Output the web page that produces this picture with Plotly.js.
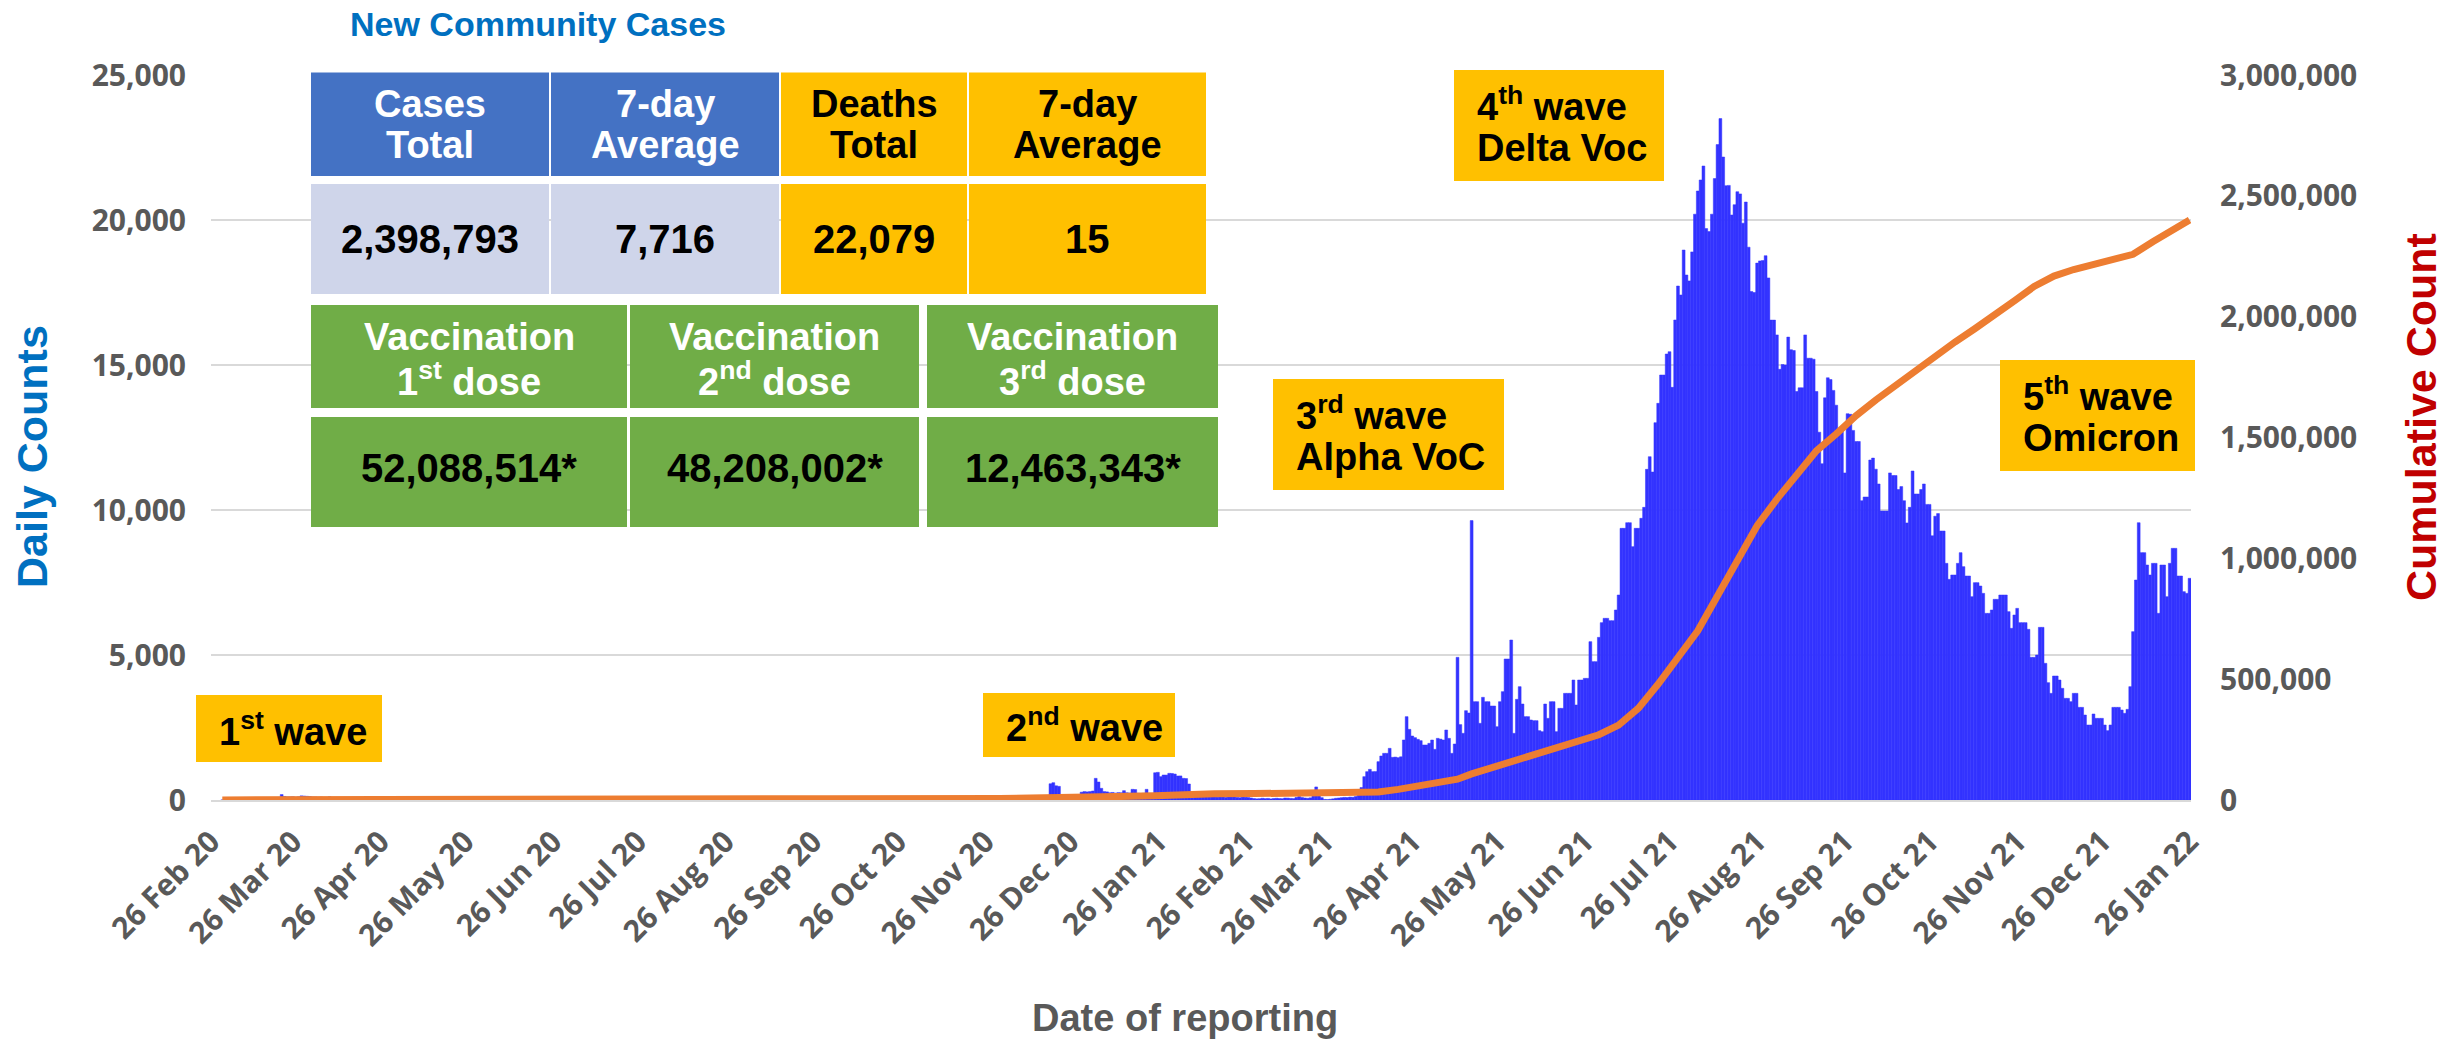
<!DOCTYPE html>
<html><head><meta charset="utf-8">
<script src="https://cdn.plot.ly/plotly-3.0.1.min.js"></script>
<style>html,body{margin:0;padding:0;background:#fff;}#chart{width:2453px;height:1042px;}</style>
</head><body><div id="chart"></div>
<script>
// ---------------- DATA ----------------
const startDate = '2020-03-01';
const mar20 = [1,0,1,1,1,0,0,1,0,1,1,2,5,7,32,33,30,35,60,50,89,188,122,106,107,111,91,109,143,136,127];
const apr20 = [120,104,103,89,102,51,38,111,54,50,45,33,28,34,30,29,28,33,32,27,19,15,13,15,53,15,9,7,9,7];
const may20 = [6,3,18,1,1,1,3,16,0,5,0,1,2,0,7,3,0,3,1,1,3,2,1,1,1,0,0,4,1,0,0];
const jun20 = [1,2,3,1,0,2,1,0,0,2,3,1,0,1,0,0,2,1,1,0,0,1,2,0,3,1,0,2,1,0];
const jul20 = [1,3,0,2,1,0,1,2,0,1,2,1,0,3,0,1,2,1,0,0,2,1,1,0,1,4,0,2,1,0,1];
const aug20 = [0,2,1,1,0,3,1,1,0,2,1,3,0,0,2,1,1,0,4,1,0,2,1,3,0,1,2,0,1,1,2];
const sep20 = [1,0,3,1,2,0,1,1,3,0,2,1,0,1,4,2,0,1,1,3,0,2,1,1,0,2,3,1,0,2];
const oct20 = [3,1,0,2,4,1,1,0,3,2,1,6,2,1,0,3,2,1,4,0,2,1,3,1,0,2,5,1,2,4,1];
const nov20 = [2,3,1,4,0,2,5,1,3,2,4,1,0,3,6,2,1,4,2,3,1,5,2,0,3,4,2,6,3,5];
const dec20 = [6,3,4,2,5,7,3,4,6,2,5,4,3,6,8,5,4,10,560,597,490,470,60,45,110,64,121,144,155,270,290];
const jan21 = [280,290,310,747,620,402,290,280,250,260,240,255,250,322,250,240,368,360,230,220,230,368,230,225,940,954,805,862,860,920,915];
const feb21 = [895,828,830,747,740,552,190,140,180,150,130,120,143,110,130,100,140,120,90,110,150,120,90,80,100,95,85,70];
const mar21 = [50,40,45,60,48,55,38,52,60,50,45,70,66,55,48,90,120,85,70,60,75,200,450,300,80,20,15,25,40,60,70];
const apr21 = [80,90,85,100,95,120,250,430,805,977,1057,977,980,1322,1517,1609,1609,1782,1471,1480,1460,1490,2070,2874,2437,2207,2150,2092,2046,1897];
const may21 = [1897,1954,2069,1747,2126,2100,2069,2414,2126,1609,1931,4920,2600,2299,3080,3000,9635,3390,3390,2644,3541,3390,3390,3241,3241,2528,3390,3736,4862,4862,5517];
const jun21 = [2299,3471,3908,3310,2874,2874,2759,2736,2736,2391,2356,3310,2816,3390,3390,2356,3161,3161,3678,3678,3678,4138,3276,4138,4138,4195,4195,5460,4770,4770];
const jul21 = [5609,6115,6265,6265,6183,6183,6552,7069,9368,9368,9563,9563,8735,9368,9368,9713,10092,11402,11839,11310,13011,13678,14655,14655,15379,15460,14230,16552,17724,17414,18965];
const aug21 = [18103,17900,18900,20200,21000,21380,21862,19703,19600,20200,21428,22600,23497,22172,21183,21193,20172,20528,20976,20900,19890,20620,19062,17531,17500,18513,18590,18600,18769,18003,16548];
const sep21 = [16548,16038,14852,15017,15000,15962,15528,15500,14086,14214,14214,16038,15234,15234,15200,14086,12683,11597,13869,14559,14500,14124,13614,12772,12772,11279,13321,13300,12745,12362];
const oct21 = [12362,10321,10448,10448,11724,11790,11407,10897,9966,9966,9966,11279,11190,11190,10707,10807,10321,9555,10093,11345,10552,10552,10707,10897,10193,10193,9110,9786,9876,9276,9276];
const nov21 = [8161,7609,7759,7759,8161,8529,8046,7724,7724,7011,7494,7494,7379,7126,6437,6437,6552,6920,6920,7069,7069,7069,6494,5920,6379,6609,6115,6115,6115,5886];
const dec21 = [4920,4920,5000,5954,5954,4713,4046,3678,4276,4276,4138,3851,3506,3506,3391,3678,3678,3195,3195,2931,2586,2586,2966,2816,2816,2816,2586,2391,2586,3195,3195];
const jan22 = [3195,3103,2989,3126,3908,5805,7586,9563,8529,8529,8103,7759,8161,8161,6437,8103,8103,7011,8161,8678,8678,7724,7724,7184,7126,7644];

const cumDates = ['2020-03-01','2020-03-21','2020-04-01','2020-04-16','2020-05-01','2020-07-01','2020-10-01','2020-12-01','2020-12-18','2020-12-19','2020-12-23',
  '2021-01-03','2021-01-11','2021-01-25','2021-02-07','2021-02-15','2021-03-01','2021-03-16','2021-03-27','2021-04-07','2021-04-14','2021-04-21','2021-04-28',
  '2021-05-05','2021-05-12','2021-05-17','2021-05-26','2021-06-01','2021-06-10','2021-06-17','2021-06-24','2021-07-01','2021-07-08','2021-07-15','2021-07-22','2021-07-29',
  '2021-08-05','2021-08-12','2021-08-19','2021-08-26','2021-09-02','2021-09-09','2021-09-16','2021-09-23','2021-09-30','2021-10-07','2021-10-14','2021-10-21','2021-10-28',
  '2021-11-04','2021-11-11','2021-11-18','2021-11-25','2021-12-02','2021-12-09','2021-12-16','2021-12-23','2021-12-30','2022-01-03','2022-01-06','2022-01-13','2022-01-20','2022-01-26'];
const cumValues = [500,1500,3000,4000,4500,5000,5500,6000,6500,7500,9000,
  11000,14000,18000,25000,26000,26500,27500,29000,30500,33500,44000,57500,
  71000,86000,108000,140000,160000,190000,214000,240000,270000,310000,380000,480000,590000,
  700000,845000,995000,1135000,1245000,1350000,1445000,1515000,1590000,1655000,1715000,1780000,1835000,
  1895000,1950000,2005000,2065000,2125000,2168000,2195000,2215000,2232000,2243000,2258000,2310000,2360000,2400000];

const tickDates = ['2020-02-26','2020-03-26','2020-04-26','2020-05-26','2020-06-26','2020-07-26','2020-08-26','2020-09-26','2020-10-26','2020-11-26','2020-12-26','2021-01-26',
  '2021-02-26','2021-03-26','2021-04-26','2021-05-26','2021-06-26','2021-07-26','2021-08-26','2021-09-26','2021-10-26','2021-11-26','2021-12-26','2022-01-26'];
const tickLabels = ['26 Feb 20','26 Mar 20','26 Apr 20','26 May 20','26 Jun 20','26 Jul 20','26 Aug 20','26 Sep 20','26 Oct 20','26 Nov 20','26 Dec 20','26 Jan 21',
  '26 Feb 21','26 Mar 21','26 Apr 21','26 May 21','26 Jun 21','26 Jul 21','26 Aug 21','26 Sep 21','26 Oct 21','26 Nov 21','26 Dec 21','26 Jan 22'];

const summaryHeaders = [['Cases','Total'],['7-day','Average'],['Deaths','Total'],['7-day','Average']];
const summaryValues = ['2,398,793','7,716','22,079','15'];
const vaccineHeaders = [['Vaccination','1<sup>st</sup> dose'],['Vaccination','2<sup>nd</sup> dose'],['Vaccination','3<sup>rd</sup> dose']];
const vaccineValues = ['52,088,514*','48,208,002*','12,463,343*'];
const waveLabels = [['1<sup>st</sup> wave'],['2<sup>nd</sup> wave'],['3<sup>rd</sup> wave','Alpha VoC'],['4<sup>th</sup> wave','Delta Voc'],['5<sup>th</sup> wave','Omicron']];

// ---------------- BUILD ----------------
const daily = [].concat(mar20,apr20,may20,jun20,jul20,aug20,sep20,oct20,nov20,dec20,jan21,feb21,mar21,apr21,may21,jun21,jul21,aug21,sep21,oct21,nov21,dec21,jan22);
function addDays(d0,n){const d=new Date(d0+'T00:00:00Z');d.setUTCDate(d.getUTCDate()+n);return d.toISOString().slice(0,10);}
const dates = daily.map((_,k)=>addDays(startDate,k));

const W=2453,H=1042,L=211,R=2191,T=75,B=800;
const px=x=>(x-L)/(R-L), py=y=>(B-y)/(B-T);
const ARIAL='Liberation Sans, Arial, sans-serif';
const TICKF='Open Sans, Liberation Sans, Arial, sans-serif';

const shapes=[], ann=[];
function box(x0,x1,y0,y1,color){shapes.push({type:'rect',xref:'paper',yref:'paper',x0:px(x0),x1:px(x1),y0:py(y1),y1:py(y0),fillcolor:color,line:{width:0},layer:'above'});}
function txt(s,x,y,size,color,opts){ann.push(Object.assign({text:s,xref:'paper',yref:'paper',x:px(x),y:py(y),xanchor:'center',yanchor:'middle',showarrow:false,
  font:{family:ARIAL,size:size,color:color,weight:700}},opts||{}));}

// summary table
const sCols=[[311,549],[551,779],[781,967],[969,1206]];
const sHeadFill=['#4472C4','#4472C4','#FFC000','#FFC000'];
const sValFill=['#CFD5EA','#CFD5EA','#FFC000','#FFC000'];
const sHeadTxt=['#FFFFFF','#FFFFFF','#000000','#000000'];
sCols.forEach((c,k)=>{
  box(c[0],c[1],72.5,176,sHeadFill[k]);
  box(c[0],c[1],184,294,sValFill[k]);
  const cx=(c[0]+c[1])/2;
  txt(summaryHeaders[k][0],cx,104,38,sHeadTxt[k]);
  txt(summaryHeaders[k][1],cx,145,38,sHeadTxt[k]);
  txt(summaryValues[k],cx,239,40,'#000000');
});
const vCols=[[311,627],[630,919],[927,1218]];
vCols.forEach((c,k)=>{
  box(c[0],c[1],305,408,'#70AD47');
  box(c[0],c[1],417,527,'#70AD47');
  const cx=(c[0]+c[1])/2;
  txt(vaccineHeaders[k][0],cx,337.5,38,'#FFFFFF');
  txt(vaccineHeaders[k][1],cx,378.6,38,'#FFFFFF');
  txt(vaccineValues[k],cx,468,40,'#000000');
});
// wave boxes
const waveBoxes=[[196,382,695,762],[983,1175,693,757],[1273,1504,379,490],[1454,1664,70,181],[2000,2195,360,471]];
waveBoxes.forEach((b,k)=>{
  box(b[0],b[1],b[2],b[3],'#FFC000');
  const lines=waveLabels[k];
  const mid=(b[2]+b[3])/2;
  if(lines.length===1){txt(lines[0],b[0]+21,mid,38,'#000000',{xanchor:'left'});}
  else{txt(lines[0],b[0]+21,mid-22,38,'#000000',{xanchor:'left'});txt(lines[1],b[0]+21,mid+22,38,'#000000',{xanchor:'left'});}
});
// titles
txt('New Community Cases',538,24,34,'#0070C0');
txt('Daily Counts',32,457,43,'#0070C0',{textangle:-90});
txt('Cumulative Count',2421,417,43,'#C00000',{textangle:-90});
txt('Date of reporting',1185,1018,38,'#595959');

const traces=[
  {type:'bar',x:dates,y:daily,width:86400000,marker:{color:'#3333FF',line:{width:0.5,color:'#3333FF'}},hoverinfo:'skip',name:'Daily'},
  {type:'scatter',mode:'lines',x:cumDates,y:cumValues,yaxis:'y2',line:{color:'#ED7D31',width:7},hoverinfo:'skip',name:'Cumulative'}
];
const layout={
  width:W,height:H,margin:{l:L,r:W-R,t:T,b:H-B,pad:0},
  paper_bgcolor:'#FFFFFF',plot_bgcolor:'#FFFFFF',showlegend:false,bargap:0,
  font:{family:TICKF,color:'#595959'},
  xaxis:{type:'date',range:['2020-02-26','2022-01-26 12:00'],tickmode:'array',tickvals:tickDates,ticktext:tickLabels,tickangle:-45,
    tickfont:{family:TICKF,size:30,color:'#595959',weight:700},ticklabelstandoff:10,showgrid:false,zeroline:false,showline:true,linecolor:'#D9D9D9',linewidth:2,ticks:'',fixedrange:true},
  yaxis:{range:[0,25000],tickvals:[0,5000,10000,15000,20000,25000],tickformat:',d',showgrid:true,gridcolor:'#D9D9D9',gridwidth:2,zeroline:false,
    tickfont:{family:TICKF,size:30,color:'#595959',weight:700},ticklabelstandoff:24,ticks:''},
  yaxis2:{range:[0,3000000],overlaying:'y',side:'right',tickvals:[0,500000,1000000,1500000,2000000,2500000,3000000],tickformat:',d',showgrid:false,zeroline:false,
    tickfont:{family:TICKF,size:30,color:'#595959',weight:700},ticklabelstandoff:28,ticks:''},
  shapes:shapes,annotations:ann
};
Plotly.newPlot('chart',traces,layout,{displayModeBar:false,staticPlot:true});
</script></body></html>
